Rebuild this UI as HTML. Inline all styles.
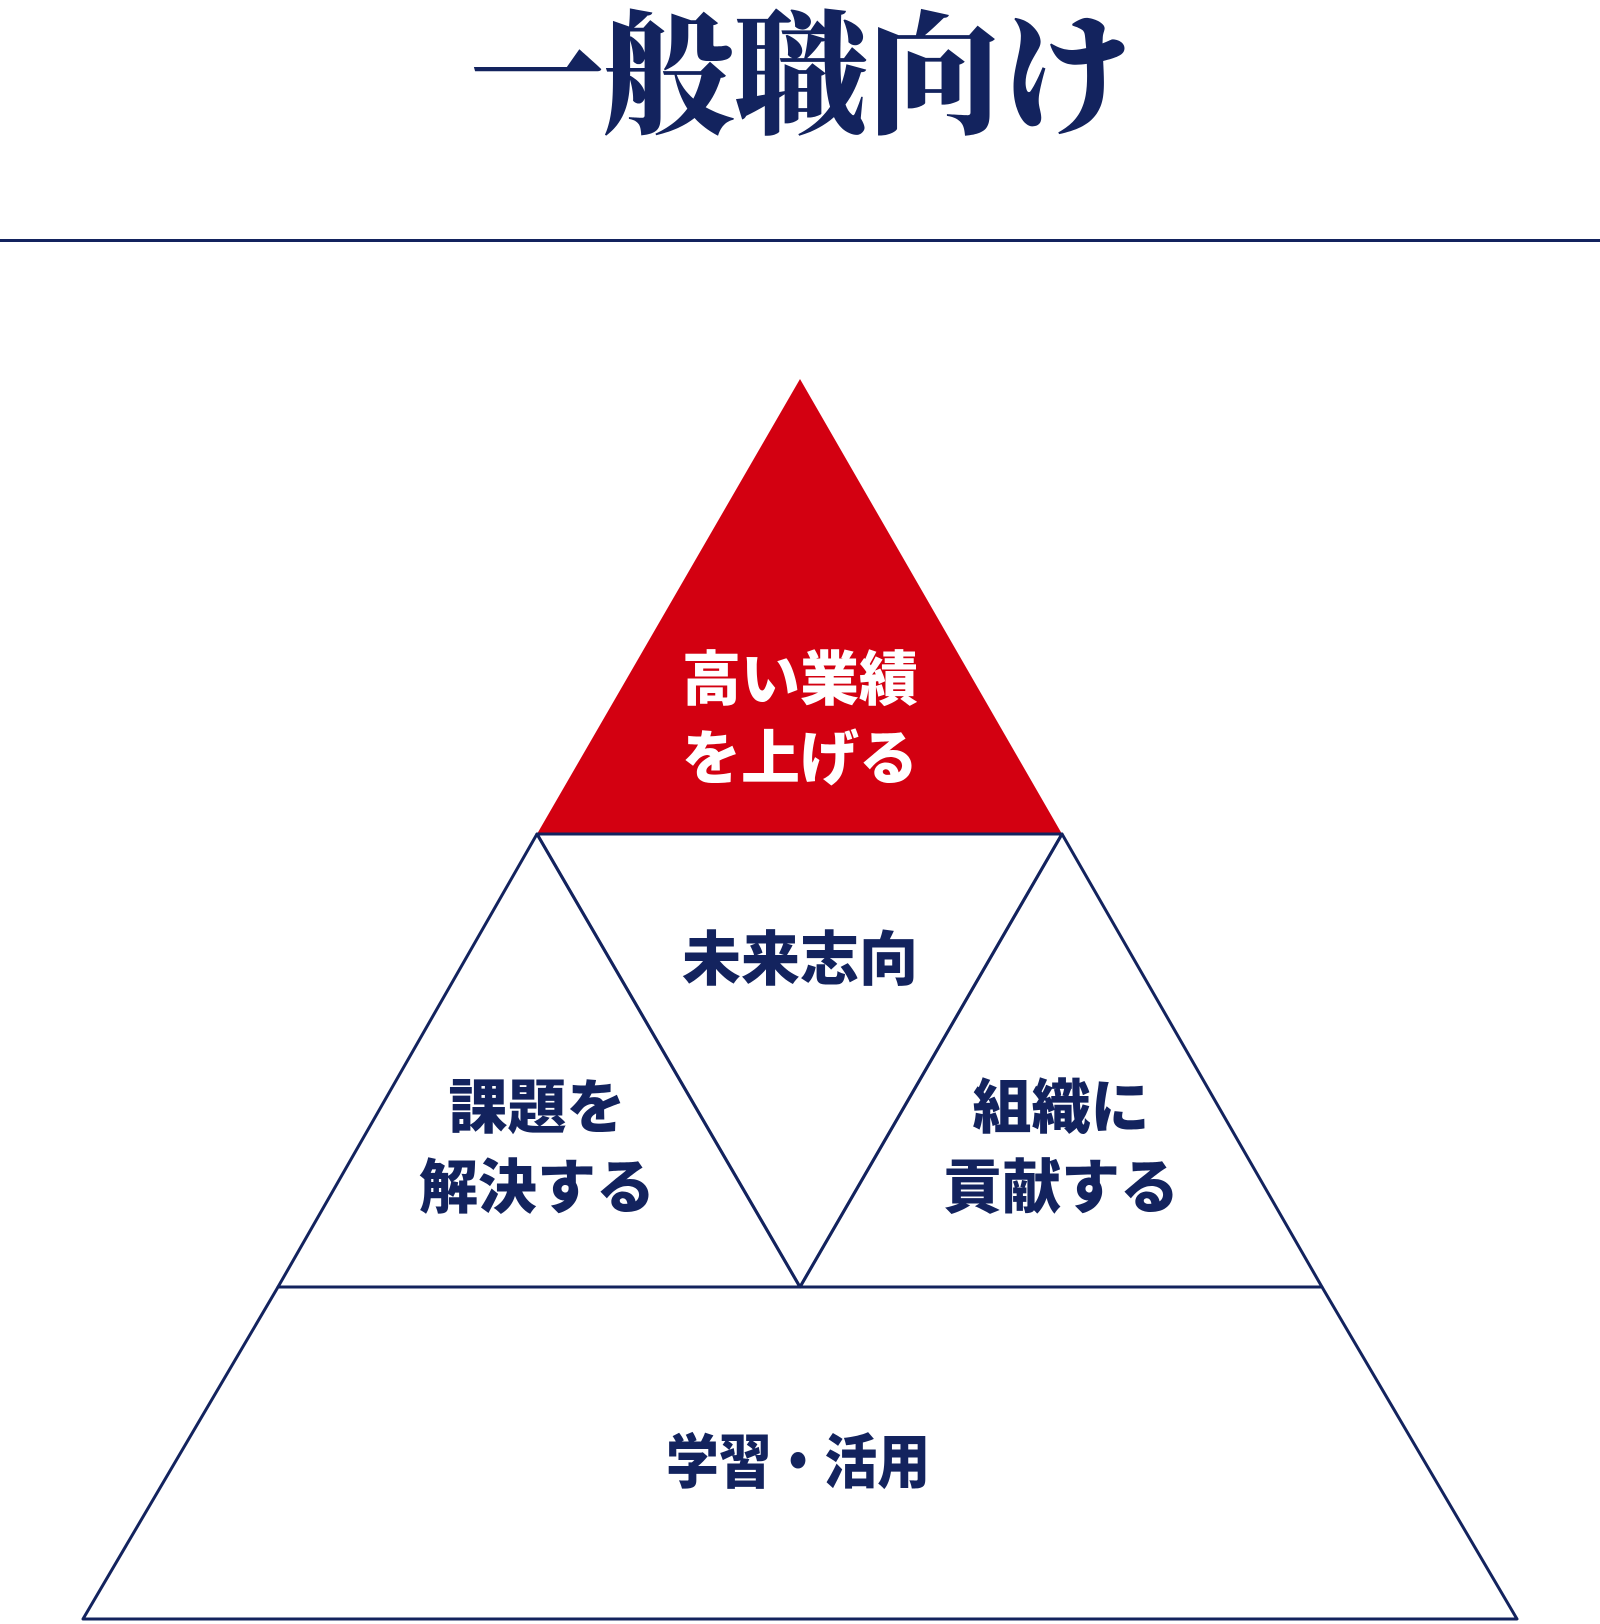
<!DOCTYPE html>
<html><head><meta charset="utf-8"><style>
html,body{margin:0;padding:0;background:#fff;}
body{width:1600px;height:1624px;position:relative;overflow:hidden;}
.t{position:absolute;left:0;width:1600px;text-align:center;top:3px;font-family:"Liberation Serif","Noto Serif CJK SC",serif;font-weight:900;font-size:134px;color:#13235e;line-height:150px;letter-spacing:-2px;}
.hr{position:absolute;left:0;top:239px;width:1600px;height:3px;background:#13235e;}
svg{position:absolute;left:0;top:0;}
</style></head><body>
<div class="t">一般職向け</div>
<div class="hr"></div>
<svg width="1600" height="1624" viewBox="0 0 1600 1624">
<polygon points="800,379 537,834 1062,834" fill="#d30011"/>
<g fill="none" stroke="#13235e" stroke-width="3" stroke-linejoin="round">
<polygon points="537,834 1062,834 800,1287"/>
<polygon points="537,834 278,1287 800,1287"/>
<polygon points="1062,834 1322,1287 800,1287"/>
<polygon points="278,1287 1322,1287 1517,1619 83,1619"/>
</g>
<g font-family="Liberation Sans,'Noto Sans CJK JP',sans-serif" font-weight="900" font-size="59" text-anchor="middle" dominant-baseline="central">
<text x="800" y="680" fill="#fff">高い業績</text>
<text x="800" y="759" fill="#fff">を上げる</text>
<text x="800" y="960" fill="#13235e">未来志向</text>
<text x="537" y="1108" fill="#13235e">課題を</text>
<text x="537" y="1188" fill="#13235e">解決する</text>
<text x="1061" y="1108" fill="#13235e">組織に</text>
<text x="1061" y="1188" fill="#13235e">貢献する</text>
<text x="798" y="1463" fill="#13235e" textLength="264" lengthAdjust="spacingAndGlyphs">学習・活用</text>
</g>
</svg>
</body></html>
